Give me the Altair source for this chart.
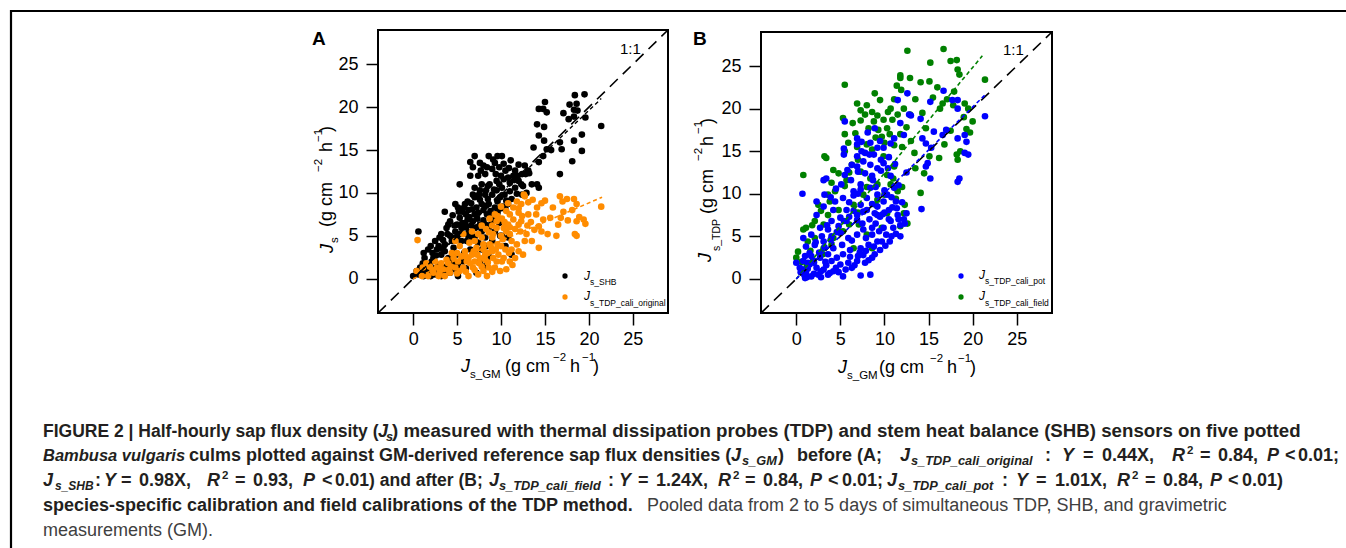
import altair as alt
import pandas as pd

FONT = "Liberation Sans"
CAP = "#231f20"

# ---------------- data ----------------
# Panel A: J_s_SHB vs J_s_GM
a_shb_x = [19.5,18.4,17.8,18.6,18.3,18.7,17.1,17.7,18.3,19.6,21.4,19.2,18.3,19.2,18.1,16.7,16.9,15.7,16.7,15.0,14.3,14.8,15.2,14.1,14.9,14.3,14.9,13.7,15.2,14.8,14.3,14.1,14.3,12.7,13.1,12.4,12.9,12.0,11.6,11.1,10.1,9.6,8.6,9.1,7.0,6.5,6.5,7.4,8.2,9.0,9.8,10.5,10.8,5.3,9.5,8.7,7.8,7.0,11.6,10.1,8.2,9.0,7.0,9.9,10.6,11.2,7.8,8.6,9.3,4.8,5.1,5.9,6.7,7.4,8.4,9.1,3.6,4.2,5.3,5.9,6.8,7.6,8.6,9.3,10.1,10.8,7.0,6.3,5.5,4.8,3.8,3.2,2.5,0.6,1.7,2.7,3.6,4.4,5.5,6.7,7.4,8.4,9.0,6.5,4.9,4.0,3.2,2.3,1.3,1.1,1.9,2.9,3.8,4.8,5.7,0.8,0.0,0.6,1.5,2.5,3.2,4.2,4.8,5.1,7.2,8.4,8.6,11.2,10.5,9.9,10.5,12.4,13.5,2.4,3.0,2.1,7.6,8.0,
            6.0,6.3,7.2,8.0,8.8,9.6,9.8,8.9,8.0,7.3,6.2,5.6,4.5,4.0,5.0,6.0,7.8,8.2,6.1,5.0,4.2,3.4,2.9,2.2,3.6,4.6,5.8,7.0,7.8,1.5,2.0,3.5,4.4,6.0,1.0,9.5,10.3,11.0,8.3,7.6,10.2,11.8,12.3,9.4,8.0,7.7,10.3,11.4,12.8,
            6.8,7.6,8.4,9.3,10.0,10.9,11.9,12.5,11.5,9.8,9.2,8.5,7.6,6.8,6.2,5.8,6.6,7.5,8.5,9.6,10.4,11.0,10.8,9.9,9.0,8.3,7.0,6.4,5.2,4.7,5.6,6.6,7.2,8.2,9.2,3.9,4.4,5.3,6.2,7.0,3.0,2.0,1.2,2.6,3.3,4.4,5.1,3.3,2.0,1.2,0.4,13.2,12.0]
a_shb_y = [21.5,21.4,20.3,20.4,19.7,19.6,19.3,18.6,18.9,18.8,17.8,16.8,16.1,14.9,13.7,15.9,15.1,15.0,12.2,20.6,19.8,19.8,19.4,18.0,17.7,16.7,16.1,15.3,15.1,14.3,13.6,11.0,10.6,13.2,12.6,12.2,10.0,11.4,12.6,13.8,14.3,14.3,14.3,13.9,14.3,13.6,12.0,12.0,12.2,12.8,13.0,12.6,11.8,11.0,11.4,11.0,11.0,10.6,10.6,10.6,9.8,9.8,9.5,9.5,9.1,9.3,8.7,8.7,8.3,8.7,8.3,8.7,8.1,7.7,7.5,7.1,7.8,6.7,7.1,6.5,6.7,6.3,5.9,5.5,5.0,4.8,5.9,5.4,5.9,5.5,5.9,5.2,4.4,5.5,3.4,3.4,4.0,4.4,4.4,4.8,4.2,3.8,4.4,3.4,2.8,2.4,2.8,2.4,2.4,1.8,1.6,1.6,1.4,1.8,2.0,1.3,0.3,0.5,0.7,0.5,0.3,0.7,1.1,0.3,0.7,2.0,2.6,2.8,3.8,5.0,8.1,9.8,11.0,1.2,0.9,2.0,2.0,1.4,
            7.5,8.0,8.3,8.0,7.9,7.7,6.5,6.4,6.8,7.0,6.9,7.8,7.4,6.3,6.3,6.0,5.5,4.8,4.4,4.9,5.0,4.5,3.8,3.0,3.2,3.6,3.0,3.0,3.4,1.0,0.3,0.9,1.9,1.2,0.9,10.3,11.6,11.2,10.3,9.2,8.4,9.9,11.0,12.2,13.2,12.6,13.4,12.0,12.2,
            13.0,13.5,13.0,13.5,12.0,12.9,12.0,10.8,11.5,11.0,10.4,10.8,10.3,9.8,9.0,8.3,8.8,9.8,9.3,9.0,9.8,10.2,8.7,8.2,7.5,8.5,7.5,7.2,7.8,6.2,6.5,6.2,6.0,6.3,6.8,5.2,4.8,5.2,5.1,4.9,4.8,3.8,3.0,2.7,3.5,2.2,1.6,1.3,1.0,0.3,0.9,12.3,13.3]

# Panel A: J_s_TDP_cali_original vs J_s_GM
a_orig_x = [15.0,16.7,17.5,18.3,18.6,18.1,21.4,18.9,19.4,19.6,18.6,18.4,18.6,17.1,16.8,16.5,15.3,14.3,14.6,14.8,15.6,14.1,14.3,13.1,12.7,12.3,12.0,12.4,12.7,12.5,12.0,11.6,11.0,11.4,10.8,10.6,10.3,11.2,10.5,10.1,9.5,9.1,8.7,8.2,8.4,7.4,6.8,7.0,7.6,8.0,7.2,6.7,6.1,5.7,5.1,4.8,4.2,3.6,2.9,2.3,1.7,1.0,0.4,0.5,1.1,1.9,2.7,3.4,4.3,5.3,6.3,9.1,9.7,9.3,9.9,10.6,8.6,7.8,6.3,5.9,5.3,4.8,5.7,6.7,7.0,7.8,8.6,9.5,10.1,10.6,11.4,11.8,12.6,8.9,4.4,3.8,3.2,2.5,1.5,13.5,12.2,11.8,13.1,
             8.0,9.0,9.6,10.2,11.0,10.4,9.0,8.3,7.4,6.4,5.5,4.6,6.9,8.5,9.4,10.9,11.3,12.9,13.8,12.0,11.6,13.4,14.0,10.0,9.3,8.7,7.8,
             3.0,4.0,5.0,6.0,7.0,8.0,9.0,6.5,7.5,8.5,9.5,10.3,11.0,11.2,10.0,9.0,8.2,7.3,6.0,5.0,4.0,3.0,2.2,12.3,13.0,11.0,10.0,9.6,10.8,12.0,13.6,14.6,15.9,17.0,16.3,17.6]
a_orig_y = [9.1,9.6,9.3,9.3,8.7,8.0,8.4,7.2,6.9,6.4,6.7,5.2,5.0,7.8,7.1,6.3,5.2,6.1,5.5,6.9,7.1,8.3,3.6,8.9,9.6,8.7,7.7,7.3,4.4,2.8,3.2,2.4,7.5,6.9,6.3,5.5,5.9,4.4,3.4,2.0,6.7,5.2,4.0,2.8,0.3,0.5,1.3,2.0,2.4,3.4,3.6,2.8,2.0,1.3,2.0,1.3,0.7,0.3,0.3,0.7,0.3,0.3,0.9,4.5,1.3,1.4,1.3,1.1,1.4,0.9,0.3,2.4,2.8,1.3,0.9,1.1,1.3,1.4,2.4,3.2,3.8,4.4,5.2,5.5,4.4,4.8,5.4,5.9,7.0,7.9,8.3,9.0,9.8,3.6,3.0,2.2,1.8,2.0,1.8,4.4,5.5,4.0,7.5,
             4.0,4.8,4.0,4.6,5.2,6.6,6.2,5.8,5.2,4.2,2.6,2.4,3.2,3.0,3.4,3.0,1.6,5.2,5.7,6.3,5.8,6.6,7.5,8.4,7.5,7.0,6.2,
             0.6,1.0,0.6,0.8,1.0,0.9,0.8,1.8,1.8,1.9,2.0,2.4,2.0,3.4,3.8,3.2,2.2,2.8,2.6,3.0,1.8,1.2,1.0,6.7,6.2,6.0,5.0,7.3,8.8,8.2,9.2,8.8,8.3,9.0,5.0,6.8]

# Panel B: J_s_TDP_cali_field vs J_s_GM
b_field_x = [12.6,16.7,17.5,18.2,18.3,15.2,21.4,11.8,11.8,12.9,14.1,15.1,11.4,11.9,5.5,8.9,11.1,13.5,16.6,17.9,17.1,19.1,19.5,6.9,8.0,5.3,7.8,8.6,9.2,10.7,9.9,7.3,5.5,8.2,9.3,9.7,10.3,10.9,11.5,6.9,3.2,3.4,5.5,0.8,4.8,6.3,7.3,8.4,10.3,9.2,10.7,11.5,5.5,4.4,2.5,3.8,6.5,12.2,11.8,14.1,18.3,18.2,19.3,19.7,15.1,16.2,14.7,16.3,0.8,1.1,2.1,3.1,3.6,4.8,0.2,0.0,3.1,4.2,5.3,6.5,8.0,8.6,10.3,9.2,7.6,5.7,4.0,9.9,8.6,11.1,13.4,18.5,12.2,12.9,11.1,2.1,1.3,7.1,9.7,
             6.0,7.0,8.0,9.0,10.0,11.8,12.5,10.4,9.5,7.3,6.4,13.0,14.3,15.5,16.0,17.8,19.0,20.0,18.6,11.0,12.0,10.0,9.0,8.0,7.0,6.0,5.0,4.0,3.0,2.0,1.2,0.6,1.6,
             4.2,3.6,2.8,1.8,5.9,6.7,8.8,10.6,12.0,13.5,14.5,16.8,17.5,11.3,12.3,12.6]
b_field_y = [26.8,27.0,25.6,25.7,24.6,25.4,23.4,23.9,23.6,23.6,23.1,23.2,22.7,22.2,22.8,21.8,21.1,21.1,20.6,22.0,21.1,20.6,20.0,20.6,20.4,18.9,19.3,19.6,19.2,20.0,18.7,18.6,17.0,17.7,17.5,16.7,17.7,18.7,19.3,15.5,14.4,14.2,15.0,12.2,12.4,13.4,12.6,11.8,12.2,11.1,11.1,10.3,10.9,10.3,8.7,9.1,8.7,7.7,6.2,10.1,14.0,14.6,17.6,17.2,14.4,14.2,17.7,20.0,5.8,6.0,6.8,6.4,7.5,8.1,3.2,2.5,3.6,4.8,5.6,3.6,5.2,3.6,7.7,9.3,9.9,11.6,11.3,14.4,15.2,15.7,14.8,24.0,20.0,19.3,13.2,4.8,4.4,6.4,6.0,
             12.5,14.0,15.8,16.6,16.0,17.0,17.8,19.6,21.0,19.8,18.3,16.2,19.5,21.3,22.5,20.4,19.0,18.5,15.0,11.8,10.8,9.9,8.7,10.8,7.8,6.4,5.5,4.0,2.9,2.0,1.5,2.0,3.3,
             12.8,9.9,8.0,6.3,16.0,17.1,18.5,17.0,15.5,13.0,12.4,15.8,17.4,9.4,8.7,6.5]

# Panel B: J_s_TDP_cali_pot vs J_s_GM
b_pot_x = [16.7,12.6,15.2,18.3,17.7,18.3,21.4,14.1,12.8,13.0,11.8,12.2,11.5,5.5,8.9,6.9,7.4,11.1,10.7,9.9,9.2,8.8,7.8,5.4,5.4,6.9,7.6,8.4,9.9,9.2,6.9,5.5,3.1,3.4,0.7,14.3,14.7,15.3,14.9,14.7,15.6,16.6,17.0,18.3,19.1,19.3,19.1,19.5,18.3,18.5,15.2,14.2,11.8,12.2,11.5,10.7,9.9,10.5,9.9,9.2,8.4,7.3,6.5,5.3,4.4,3.2,3.1,4.2,5.7,7.3,8.0,8.9,9.5,6.9,5.7,4.8,3.6,2.7,1.7,0.8,1.1,2.1,3.1,4.0,5.0,5.9,6.9,7.6,8.6,9.2,8.2,7.3,6.1,5.3,4.6,3.6,2.7,1.7,0.8,0.0,0.4,1.1,1.7,2.5,3.1,3.6,4.2,5.3,7.3,8.4,5.0,5.9,6.9,7.8,8.6,7.6,6.3,1.5,2.3,1.0,10.3,11.1,11.6,10.7,8.6,6.5,5.1,9.2,11.3,2.3,
           7.5,8.3,9.0,9.8,10.5,11.0,10.2,9.4,8.6,7.9,8.8,9.7,10.8,11.4,12.0,10.8,10.0,9.0,8.0,7.0,6.0,6.5,5.0,4.0,3.5,2.9,2.2,1.5,1.0,2.0,3.3,4.2,5.2,6.3,7.2,8.2,6.6,4.5,3.8,2.8,1.3,0.9,12.5,11.2,10.5,9.5,8.4,7.4,6.9,8.1,9.6,7.8,6.2,5.8,4.5,3.9,2.3,
           0.5,1.2,2.0,2.8,3.4,4.0,4.8,5.6,6.1,7.0,7.9,8.9,9.5,10.1,10.6,11.3,11.8,12.3,12.5,11.6,10.9,10.0,9.2,8.6,7.6,6.9,6.0,5.4,4.6,3.9,3.2,2.6,1.9,1.3,0.8,6.3,7.0,8.3,9.6,10.4,8.7,7.3]
b_pot_y = [22.1,21.8,20.8,21.0,21.0,20.0,19.1,18.8,19.3,19.2,18.3,16.9,21.0,18.5,17.7,16.5,16.1,16.5,15.9,15.4,15.4,14.6,14.8,15.3,14.6,14.4,13.8,13.4,13.6,13.0,13.2,12.2,11.6,11.8,10.0,16.5,15.9,15.4,13.6,13.2,17.3,16.9,17.5,16.5,16.9,16.1,14.8,14.6,11.4,11.8,11.8,8.2,5.0,7.0,7.5,6.8,6.0,8.1,9.1,9.9,10.7,11.1,10.3,9.5,9.1,9.9,8.5,8.1,8.1,8.7,8.1,7.7,7.3,7.5,6.8,6.2,5.8,6.0,5.2,4.8,3.8,4.0,4.4,5.0,5.4,4.8,5.2,5.8,5.2,4.4,4.0,3.6,3.4,2.9,2.5,2.9,2.5,2.7,2.1,1.9,1.3,0.7,0.3,0.5,1.1,0.5,0.9,0.3,0.4,0.5,1.7,1.9,2.1,1.9,2.5,2.8,1.3,1.7,1.3,0.1,9.9,10.7,11.0,12.1,12.1,9.8,11.1,8.5,9.1,7.5,
           6.5,7.0,6.5,7.6,7.0,6.0,5.2,5.6,6.0,4.8,3.8,4.4,5.0,8.3,9.0,9.6,10.4,10.8,9.5,10.0,9.0,8.0,7.2,6.8,6.3,5.0,4.3,3.0,2.7,1.9,2.0,3.6,4.0,4.5,3.1,2.2,1.6,1.3,0.7,0.9,1.2,0.5,12.5,13.5,14.3,16.2,16.0,15.0,15.8,17.2,12.7,12.4,11.6,12.8,10.6,9.6,9.1,
           0.8,0.2,0.6,0.2,1.6,2.1,0.8,1.1,2.6,2.7,3.3,2.9,3.4,3.9,4.4,5.3,6.3,6.5,7.7,7.0,8.4,7.8,7.5,8.8,7.9,6.9,7.3,6.8,5.5,4.6,3.7,3.1,2.2,1.9,1.1,13.4,12.6,14.6,14.0,13.0,11.6,10.5]

# fitted lines and 1:1 line (end points)
one_to_one = [-4, 29]
a_fit_shb_x, a_fit_shb_y = [0, 21.4], [0, 21.0]
a_fit_orig_x, a_fit_orig_y = [0, 21.5], [0, 9.5]
b_fit_field_x, b_fit_field_y = [0, 21.1], [0, 26.2]
b_fit_pot_x, b_fit_pot_y = [0, 21.4], [0, 21.6]

tick_values = [0, 5, 10, 15, 20, 25]
DOMAIN = [-4, 29]

# ---------------- layout ----------------
PANELS = {
    "A": dict(xr=[378, 668], yr=[313, 30]),
    "B": dict(xr=[761, 1052], yr=[313, 32]),
}


def scales(p):
    xs = alt.Scale(domain=DOMAIN, range=PANELS[p]["xr"], nice=False, zero=False)
    ys = alt.Scale(domain=DOMAIN, range=PANELS[p]["yr"], nice=False, zero=False)
    return xs, ys


def axes(p):
    xr = PANELS[p]["xr"]
    yr = PANELS[p]["yr"]
    common = dict(values=tick_values, tickSize=12, tickWidth=1.5, tickColor="black",
                  labelFontSize=18, labelFont=FONT, labelColor="black",
                  domain=False, grid=False, title=None, labelFlush=False,
                  labelOverlap=False)
    ax = alt.Axis(orient="bottom", offset=yr[0] - 548, labelPadding=5, labelAngle=0, **common)
    ay = alt.Axis(orient="left", offset=-xr[0], labelPadding=8, **common)
    return ax, ay


def points(p, xs_, ys_, color, with_axes=False):
    df = pd.DataFrame({"x": xs_, "y": ys_})
    xs, ys = scales(p)
    if with_axes:
        ax, ay = axes(p)
    else:
        ax, ay = None, None
    return alt.Chart(df).mark_circle(size=44, opacity=1, color=color).encode(
        x=alt.X("x:Q", scale=xs, axis=ax),
        y=alt.Y("y:Q", scale=ys, axis=ay),
    )


def line(p, xs_, ys_, color, dash, width):
    df = pd.DataFrame({"x": xs_, "y": ys_})
    xs, ys = scales(p)
    return alt.Chart(df).mark_line(color=color, strokeDash=dash, strokeWidth=width).encode(
        x=alt.X("x:Q", scale=xs, axis=None),
        y=alt.Y("y:Q", scale=ys, axis=None),
    )


def frame(p):
    df = pd.DataFrame({"x0": [DOMAIN[0]], "x1": [DOMAIN[1]], "y0": [DOMAIN[0]], "y1": [DOMAIN[1]]})
    xs, ys = scales(p)
    return alt.Chart(df).mark_rect(fillOpacity=0, stroke="black", strokeWidth=2).encode(
        x=alt.X("x0:Q", scale=xs, axis=None), x2="x1:Q",
        y=alt.Y("y0:Q", scale=ys, axis=None), y2="y1:Q",
    )


def dot(x, y, color):
    return alt.Chart(pd.DataFrame({"k": [0]})).mark_circle(size=28, opacity=1, color=color).encode(
        x=alt.value(x), y=alt.value(y))


# ---------------- text runs (annotation layout) ----------------
L1, L2, L3, L4, L5 = 436.5, 461, 485.5, 511, 536
SB, SP = 4, -7
runs = [
    # caption line 1
    ("FIGURE 2 | Half-hourly sap flux density (", 43, L1, "cb", 17.5),
    ("J", 378, L1, "cbi", None), ("s", 386, L1 + SB, "csub", None),
    (") measured with thermal dissipation probes (TDP) and stem heat balance (SHB) sensors on five potted", 392, L1, "cb", 18.7),
    # line 2
    ("Bambusa vulgaris", 43, L2, "cbi", 16.5),
    ("culms plotted against GM-derived reference sap flux densities (", 189, L2, "cb", 18),
    ("J", 731, L2, "cbi", None), ("s_GM", 742, L2 + SB, "csub", None),
    (")", 778, L2, "cb", None), ("before (A;", 797, L2, "cb", None),
    ("J", 900, L2, "cbi", None), ("s_TDP_cali_original", 911, L2 + SB, "csub", None),
    (":", 1045, L2, "cb", None), ("Y", 1062, L2, "cbi", None), ("=", 1083, L2, "cb", None), ("0.44X,", 1102, L2, "cb", None),
    ("R", 1172, L2, "cbi", None), ("2", 1187, L2 + SP, "csup", None), ("=", 1200, L2, "cb", None), ("0.84,", 1218, L2, "cb", None),
    ("P", 1267, L2, "cbi", None), ("<", 1285, L2, "cb", None), ("0.01;", 1298, L2, "cb", None),
    # line 3
    ("J", 43, L3, "cbi", None), ("s_SHB", 55, L3 + SB, "csub", 12), (":", 95, L3, "cb", None),
    ("Y", 104, L3, "cbi", None), ("=", 121, L3, "cb", None), ("0.98X,", 139, L3, "cb", None),
    ("R", 207, L3, "cbi", None), ("2", 222, L3 + SP, "csup", None), ("=", 235, L3, "cb", None), ("0.93,", 253, L3, "cb", None),
    ("P", 303, L3, "cbi", None), ("<", 322, L3, "cb", None), ("0.01) and after (B;", 335, L3, "cb", 17.5),
    ("J", 489, L3, "cbi", None), ("s_TDP_cali_field", 499, L3 + SB, "csub", None), (":", 608, L3, "cb", None),
    ("Y", 619, L3, "cbi", None), ("=", 638, L3, "cb", None), ("1.24X,", 656, L3, "cb", None),
    ("R", 718, L3, "cbi", None), ("2", 733, L3 + SP, "csup", None), ("=", 745, L3, "cb", None), ("0.84,", 763, L3, "cb", None),
    ("P", 810, L3, "cbi", None), ("<", 828, L3, "cb", None), ("0.01;", 842, L3, "cb", None),
    ("J", 887, L3, "cbi", None), ("s_TDP_cali_pot", 898, L3 + SB, "csub", None), (":", 1002, L3, "cb", None),
    ("Y", 1016, L3, "cbi", None), ("=", 1036, L3, "cb", None), ("1.01X,", 1055, L3, "cb", None),
    ("R", 1117, L3, "cbi", None), ("2", 1132, L3 + SP, "csup", None), ("=", 1145, L3, "cb", None), ("0.84,", 1163, L3, "cb", None),
    ("P", 1210, L3, "cbi", None), ("<", 1228, L3, "cb", None), ("0.01)", 1242, L3, "cb", None),
    # line 4, 5
    ("species-specific calibration and field calibrations of the TDP method.", 43, L4, "cb", None),
    ("Pooled data from 2 to 5 days of simultaneous TDP, SHB, and gravimetric", 647, L4, "cr", None),
    ("measurements (GM).", 43, L5, "cr", None),
    # panel A x title
    ("J", 461, 372, "axi", None), ("s_GM", 470, 378, "axs", None), ("(g cm", 505, 372, "ax", None),
    ("\u22122", 553, 361, "axs", None), ("h", 570, 372, "ax", None), ("\u22121", 582, 361, "axs", None), (")", 593, 372, "ax", None),
    # panel B x title
    ("J", 838, 373, "axi", None), ("s_GM", 847, 379, "axs", None), ("(g cm", 879, 373, "ax", None),
    ("\u22122", 930, 362, "axs", None), ("h", 947, 373, "ax", None), ("\u22121", 958, 362, "axs", None), (")", 970, 373, "ax", None),
    # panel A y title (rotated)
    ("J", 333, 253, "raxi", None), ("s", 338, 243, "raxs", None), ("(g cm", 332, 227, "rax", None),
    ("\u22122", 322, 172, "raxs", None), ("h", 332, 152, "rax", None), ("\u22121", 322, 142, "raxs", None), (")", 332, 132, "rax", None),
    # panel B y title (rotated)
    ("J", 711, 262, "raxi", None), ("s_TDP", 720, 251, "raxs", 10.5), ("(g cm", 713, 214, "rax", None),
    ("\u22122", 702, 161, "raxs", None), ("h", 713, 146, "rax", None), ("\u22121", 702, 134, "raxs", None), (")", 713, 124, "rax", None),
    # panel letters and 1:1
    ("A", 312, 45, "panel", None), ("B", 693, 45, "panel", None),
    ("1:1", 620, 53.5, "one", None), ("1:1", 1003, 54.5, "one", None),
    # legends
    ("J", 584, 280, "legi", None), ("s_SHB", 590, 285, "legs", None),
    ("J", 584, 300, "legi", None), ("s_TDP_cali_original", 590, 306, "legs", None),
    ("J", 979, 279, "legi", None), ("s_TDP_cali_pot", 985, 284, "legs", None),
    ("J", 979, 300, "legi", None), ("s_TDP_cali_field", 985, 306, "legs", None),
]

STYLES = {
    "cb": dict(fontSize=18, fontWeight="bold", color=CAP),
    "cbi": dict(fontSize=18, fontWeight="bold", fontStyle="italic", color=CAP),
    "csub": dict(fontSize=12.8, fontWeight="bold", fontStyle="italic", color=CAP),
    "csup": dict(fontSize=11.5, fontWeight="bold", color=CAP),
    "cr": dict(fontSize=18, color="#404040"),
    "ax": dict(fontSize=18, color="black"),
    "axi": dict(fontSize=18, fontStyle="italic", color="black"),
    "axs": dict(fontSize=11.5, color="black"),
    "rax": dict(fontSize=18, color="black", angle=270),
    "raxi": dict(fontSize=18, fontStyle="italic", color="black", angle=270),
    "raxs": dict(fontSize=11.5, color="black", angle=270),
    "panel": dict(fontSize=19, fontWeight="bold", color="black"),
    "one": dict(fontSize=15, color="black"),
    "legi": dict(fontSize=12, fontStyle="italic", color="black"),
    "legs": dict(fontSize=8.5, color="black"),
}

groups = {}
for t, x, y, st, sz in runs:
    props = dict(STYLES[st])
    if sz is not None:
        props["fontSize"] = sz
    key = (st, props["fontSize"])
    groups.setdefault(key, {"props": props, "rows": []})["rows"].append((t, x, y))

text_layers = []
for key, g in groups.items():
    df = pd.DataFrame({"t": [r[0] for r in g["rows"]], "px": [r[1] for r in g["rows"]],
                       "py": [r[2] for r in g["rows"]]})
    text_layers.append(
        alt.Chart(df).mark_text(font=FONT, align="left", baseline="alphabetic", **g["props"]).encode(
            x=alt.X("px:Q", scale=None), y=alt.Y("py:Q", scale=None), text="t:N")
    )

# page frame (left and top edges visible; right/bottom run off the picture)
outer = alt.Chart(pd.DataFrame({"k": [0]})).mark_rect(fillOpacity=0, stroke="black", strokeWidth=2.2).encode(
    x=alt.value(11), x2=alt.value(1400), y=alt.value(11), y2=alt.value(600))

DASH_11 = [11, 7]
DASH_FIT = [4, 3]
layers = [
    outer,
    # panel A
    points("A", a_shb_x, a_shb_y, "#000000", with_axes=True),
    points("A", a_orig_x, a_orig_y, "#FF8C00"),
    line("A", one_to_one, one_to_one, "black", DASH_11, 1.6),
    line("A", a_fit_shb_x, a_fit_shb_y, "black", DASH_FIT, 1.4),
    line("A", a_fit_orig_x, a_fit_orig_y, "#FF8C00", DASH_FIT, 1.6),
    frame("A"),
    # panel B
    points("B", b_field_x, b_field_y, "#008000", with_axes=True),
    points("B", b_pot_x, b_pot_y, "#0000FF"),
    line("B", one_to_one, one_to_one, "black", DASH_11, 1.6),
    line("B", b_fit_field_x, b_fit_field_y, "#008000", DASH_FIT, 1.6),
    line("B", b_fit_pot_x, b_fit_pot_y, "#0000FF", DASH_FIT, 1.6),
    frame("B"),
    # legend dots
    dot(565, 276, "#000000"), dot(565, 297, "#FF8C00"),
    dot(961, 276, "#0000FF"), dot(961, 297, "#008000"),
] + text_layers

chart = alt.layer(*layers).resolve_scale(x="independent", y="independent").resolve_axis(
    x="independent", y="independent"
).properties(
    width=1346, height=548, autosize=alt.AutoSizeParams(type="none"), padding=0, background="white"
).configure_view(stroke=None)

chart.save("out.html", embed_options={"renderer": "svg", "actions": False})
